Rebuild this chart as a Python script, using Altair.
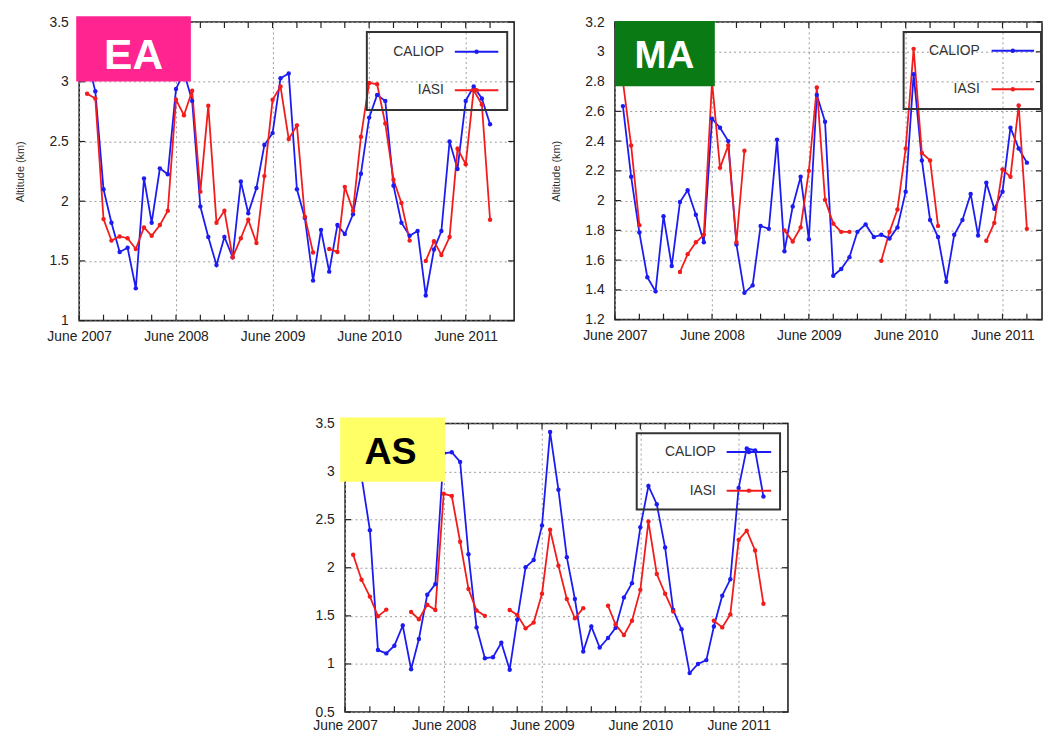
import altair as alt
import pandas as pd

# months July 2007 .. September 2011 (51 monthly values)
months = [d.strftime("%Y-%m-%dT00:00:00") for d in pd.date_range("2007-07-01", periods=51, freq="MS")]
tick_months = [d.strftime("%Y-%m-%dT00:00:00") for d in pd.date_range("2007-06-01", "2011-09-01", freq="3MS")]

ea_caliop = [3.20, 2.92, 2.10, 1.82, 1.575, 1.61, 1.27, 2.19, 1.82, 2.275, 2.225, 2.94,
             3.08, 2.84, 1.955, 1.70, 1.465, 1.70, 1.53, 2.165, 1.90, 2.11, 2.47, 2.57,
             3.03, 3.07, 2.10, 1.86, 1.335, 1.76, 1.41, 1.80, 1.725, 1.89, 2.23, 2.70,
             2.89, 2.84, 2.13, 1.82, 1.71, 1.75, 1.21, 1.595, 1.75, 2.50, 2.27, 2.84,
             2.96, 2.86, 2.645]
ea_iasi = [2.90, 2.86, 1.85, 1.67, 1.705, 1.69, 1.60, 1.78, 1.71, 1.80, 1.92, 2.85,
           2.72, 2.925, 2.08, 2.80, 1.82, 1.92, 1.53, 1.69, 1.845, 1.65, 2.21, 2.85,
           2.96, 2.52, 2.635, 1.87, 1.57, None, 1.60, 1.575, 2.12, 1.92, 2.54, 2.99,
           2.98, 2.65, 2.18, 1.985, 1.67, None, 1.50, 1.665, 1.55, 1.70, 2.44, 2.31,
           2.93, 2.81, 1.845]

ma_caliop = [2.635, 2.16, 1.785, 1.485, 1.39, 1.895, 1.56, 1.99, 2.07, 1.905, 1.72, 2.55,
             2.49, 2.40, 1.705, 1.38, 1.43, 1.83, 1.81, 2.41, 1.66, 1.96, 2.16, 1.74,
             2.71, 2.53, 1.495, 1.54, 1.62, 1.79, 1.84, 1.755, 1.77, 1.745, 1.82, 2.06,
             2.85, 2.27, 1.87, 1.755, 1.455, 1.77, 1.87, 2.045, 1.765, 2.12, 1.945, 2.06,
             2.49, 2.35, 2.255]
ma_iasi = [2.80, 2.37, 1.835, None, None, None, None, 1.52, 1.64, 1.72, 1.77, 2.80,
           2.22, 2.37, 1.72, 2.335, None, None, None, None, 1.80, 1.725, 1.82, 2.20,
           2.76, 2.005, 1.845, 1.79, 1.79, None, None, None, 1.595, 1.79, 1.94, 2.35,
           3.02, 2.32, 2.27, 1.83, None, None, None, None, None, 1.73, 1.85, 2.21,
           2.16, 2.64, 1.81]

as_caliop = [3.30, 2.95, 2.39, 1.145, 1.11, 1.19, 1.40, 0.945, 1.26, 1.72, 1.83, 3.19,
             3.20, 3.10, 2.14, 1.38, 1.06, 1.07, 1.22, 0.94, 1.46, 2.005, 2.08, 2.44,
             3.41, 2.81, 2.11, 1.675, 1.13, 1.39, 1.17, 1.27, 1.375, 1.69, 1.84, 2.42,
             2.85, 2.66, 2.21, 1.56, 1.36, 0.905, 1.00, 1.04, 1.39, 1.71, 1.88, 2.83,
             3.24, 3.22, 2.74]
as_iasi = [2.135, 1.875, 1.70, 1.495, 1.565, None, None, 1.54, 1.465, 1.615, 1.56, 2.77,
           2.745, 2.27, 1.78, 1.555, 1.50, None, None, 1.56, 1.51, 1.37, 1.43, 1.73,
           2.395, 2.02, 1.675, 1.475, 1.58, None, None, 1.605, 1.41, 1.30, 1.45, 1.77,
           2.48, 1.935, 1.73, 1.545, None, None, None, None, 1.45, 1.38, 1.515, 2.29,
           2.385, 2.18, 1.625]

series_names = ["CALIOP", "IASI"]
series_colors = ["#1c1cf2", "#f21c1c"]
FONT = "Liberation Sans"
one = pd.DataFrame({"k": [0]})


def rows_for(values, name):
    rows, seg = [], 0
    for m, v in zip(months, values):
        if v is None:
            seg += 1
            continue
        rows.append({"date": m, "value": v, "series": name, "seg": f"{name}-{seg}"})
    return rows


def panel(caliop, iasi, ylo, yhi, yticks, width, height, x_end, label, box_fill,
          text_color, box, text_xy, text_size, leg, ytitle, xlabel_pad):
    df = pd.DataFrame(rows_for(caliop, "CALIOP") + rows_for(iasi, "IASI"))
    xscale = alt.Scale(domain=[alt.DateTime(year=2007, month=6, date=1), x_end])
    yscale = alt.Scale(domain=[ylo, yhi], nice=False, zero=False)
    junes = [alt.DateTime(year=y, month=6, date=1) for y in range(2007, 2012)]
    yaxis_kw = dict(values=yticks, format=".1~f", grid=True, gridDash=[2, 3],
                    gridColor="#9a9a9a", ticks=False, domain=False, labelPadding=11,
                    labelFontSize=14, labelColor="#222", labelFont=FONT)
    if ytitle:
        yaxis_kw.update(title=ytitle, titleFontSize=11, titleFontWeight="normal",
                        titleColor="#333", titlePadding=24, titleFont=FONT)
    else:
        yaxis_kw.update(title=None)
    x = alt.X("date:T", scale=xscale,
              axis=alt.Axis(values=junes, format="%B %Y", title=None, grid=True,
                            gridDash=[2, 3], gridColor="#9a9a9a", ticks=False,
                            domain=False, labelFlush=False, labelOverlap=False,
                            labelPadding=xlabel_pad, labelFontSize=14,
                            labelColor="#222", labelFont=FONT))
    y = alt.Y("value:Q", scale=yscale, axis=alt.Axis(**yaxis_kw))
    color = alt.Color("series:N", scale=alt.Scale(domain=series_names, range=series_colors),
                      legend=None)
    base = alt.Chart(df)
    lines = base.mark_line(strokeWidth=1.8).encode(x=x, y=y, color=color, detail="seg:N")
    pts = base.mark_circle(size=20, opacity=1).encode(x=x, y=y, color=color)

    tdf = pd.DataFrame({"date": tick_months})
    tick_bot = alt.Chart(tdf).mark_rule(color="#222", strokeWidth=1.2).encode(
        x=x, y=alt.value(height - 6), y2=alt.value(height))
    tick_top = alt.Chart(tdf).mark_rule(color="#222", strokeWidth=1.2).encode(
        x=x, y=alt.value(0), y2=alt.value(6))
    ydf = pd.DataFrame({"value": yticks})
    tick_l = alt.Chart(ydf).mark_rule(color="#222", strokeWidth=1.2).encode(
        y=y, x=alt.value(0), x2=alt.value(6))
    tick_r = alt.Chart(ydf).mark_rule(color="#222", strokeWidth=1.2).encode(
        y=y, x=alt.value(width - 6), x2=alt.value(width))

    # legend (gnuplot style: label left, sample right)
    lx0, lx1, ly0, ly1, txr, ty0, ty1, sx0, sx1 = leg
    layers = [lines, pts, tick_bot, tick_top, tick_l, tick_r]
    layers.append(alt.Chart(one).mark_rect(fillOpacity=0, stroke="#333", strokeWidth=2).encode(
        x=alt.value(lx0), x2=alt.value(lx1), y=alt.value(ly0), y2=alt.value(ly1)))
    for name, col, ty in zip(series_names, series_colors, [ty0, ty1]):
        layers.append(alt.Chart(one).mark_text(align="right", baseline="middle", fontSize=14,
                                               font=FONT, color="#333").encode(
            x=alt.value(txr), y=alt.value(ty), text=alt.value(name)))
        layers.append(alt.Chart(one).mark_rule(color=col, strokeWidth=2).encode(
            x=alt.value(sx0), x2=alt.value(sx1), y=alt.value(ty)))
        layers.append(alt.Chart(one).mark_circle(color=col, size=20, opacity=1).encode(
            x=alt.value((sx0 + sx1) / 2), y=alt.value(ty)))

    bx0, bx1, by0, by1 = box
    layers.append(alt.Chart(one).mark_rect(color=box_fill).encode(
        x=alt.value(bx0), x2=alt.value(bx1), y=alt.value(by0), y2=alt.value(by1)))
    layers.append(alt.Chart(one).mark_text(align="center", baseline="middle", fontSize=text_size,
                                           fontWeight="bold", font=FONT, color=text_color).encode(
        x=alt.value(text_xy[0]), y=alt.value(text_xy[1]), text=alt.value(label)))
    return alt.layer(*layers).properties(width=width, height=height)


ea = panel(ea_caliop, ea_iasi, 1.0, 3.5, [1, 1.5, 2, 2.5, 3, 3.5], 440, 302,
           alt.DateTime(year=2011, month=12, date=1), "EA", "#ff2490", "white",
           (-3, 113, -6, 60), (55, 34), 43,
           (291, 433, 10, 89, 369, 30, 69, 380, 424), "Altitude (km)", 9)
ma = panel(ma_caliop, ma_iasi, 1.2, 3.2, [1.2, 1.4, 1.6, 1.8, 2.0, 2.2, 2.4, 2.6, 2.8, 3.0, 3.2],
           432, 301, alt.DateTime(year=2011, month=10, date=28), "MA", "#0a7a14", "white",
           (0, 101, -1, 65), (50, 34), 39,
           (292, 431, 10, 88, 369, 29, 68, 381, 424), "Altitude (km)", 9)
as_ = panel(as_caliop, as_iasi, 0.5, 3.5, [0.5, 1, 1.5, 2, 2.5, 3, 3.5], 448, 292,
            alt.DateTime(year=2011, month=12, date=1), "AS", "#ffff66", "black",
            (-5, 101, -6, 59), (46, 30), 38,
            (295, 440, 10, 87, 375, 29, 68, 386, 431), None, 7)

spacer = alt.Chart(one).mark_point(opacity=0).encode(
    x=alt.value(0), y=alt.value(0)).properties(
    width=224, height=10, view=alt.ViewConfig(stroke="transparent"))

chart = alt.vconcat(
    alt.hconcat(ea, ma, spacing=33),
    alt.hconcat(spacer, as_, spacing=10),
    spacing=72,
).properties(
    padding={"left": 5, "top": 2, "right": 0, "bottom": 0}
).configure_view(stroke="#222", strokeWidth=1.6)

chart.save("out.html", embed_options={"renderer": "svg", "actions": False})
